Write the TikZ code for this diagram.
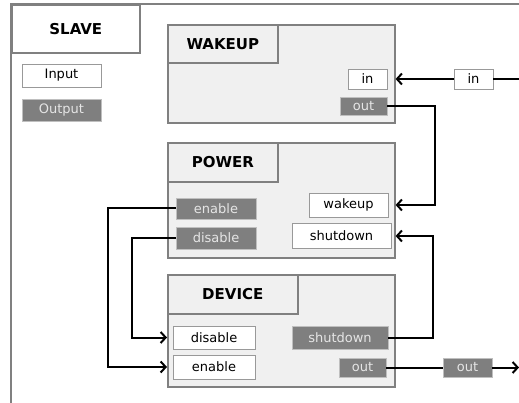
\documentclass[tikz,border=0pt]{standalone}
\usepackage{fontspec}
\setmainfont{DejaVu Sans}
\usetikzlibrary{positioning}
\usetikzlibrary{arrows.meta}
\definecolor{modfill}{HTML}{F0F0F0}
\definecolor{modline}{HTML}{808080}
\definecolor{outfill}{HTML}{7F7F7F}
\tikzset{
    module/.style={
        draw=modline,
        line width=1.6pt,
        fill=modfill,
        anchor=north west,
        inner sep=0pt},
    title/.style={
        module,
        font=\fontsize{15}{18}\selectfont\bfseries},
    inport/.style={
        draw=modline!80,
        fill=white,
        line width=0.8pt,
        inner sep=0pt,
        font=\fontsize{13}{15}\selectfont},
    outport/.style={
        inport,
        draw=modline!50,
        fill=outfill,
        text=white!90!black},
    link/.style={
        draw,
        -{Straight Barb[length=5pt,width=11pt]},
        line width=2pt}}

\begin{document}
\begin{tikzpicture}[x=1pt,y=-1pt]
        \useasboundingbox (0,0) rectangle (519,403);
        \fill[white] (0,0) rectangle (519,403);
        \draw[modline,line width=1.6pt] (11,403) -- (11,4) -- (519,4);
        \node[title,fill=white,minimum width=128pt,minimum height=48pt] (slave) at (11,4) {SLAVE};
        \node[inport,minimum width=79pt,minimum height=23pt] (input) at (61.5,75.5) {Input};
        \node[outport,minimum width=79pt,minimum height=22pt] (output) at (61.5,110) {Output};

        % modules
        \node[module,minimum width=227pt,minimum height=98pt] (wakeup) at (167,24) {};
        \node[title,minimum width=110pt,minimum height=38pt] (wakeupT) at (167,24) {WAKEUP};
        \node[module,minimum width=227pt,minimum height=115pt] (power) at (167,142) {};
        \node[title,minimum width=110pt,minimum height=39pt] (powerT) at (167,142) {POWER};
        \node[module,minimum width=227pt,minimum height=112pt] (device) at (167,274) {};
        \node[title,minimum width=130pt,minimum height=39pt] (deviceT) at (167,274) {DEVICE};

        % ports
        \node[inport,minimum width=39pt,minimum height=20pt] (wkin) at (367.5,79) {in};
        \node[outport,minimum width=47pt,minimum height=18pt] (wkout) at (363.5,106) {out};
        \node[outport,minimum width=80pt,minimum height=21pt] (pwen) at (216,208.5) {enable};
        \node[outport,minimum width=80pt,minimum height=22pt] (pwdis) at (216,238) {disable};
        \node[inport,minimum width=79pt,minimum height=24pt] (pwwake) at (348.5,205) {wakeup};
        \node[inport,minimum width=99pt,minimum height=25pt] (pwshut) at (341.5,236) {shutdown};
        \node[inport,minimum width=82pt,minimum height=23pt] (dvdis) at (214,337.5) {disable};
        \node[inport,minimum width=82pt,minimum height=24pt] (dven) at (214,367) {enable};
        \node[outport,minimum width=96pt,minimum height=23pt] (dvshut) at (340,337.5) {shutdown};
        \node[outport,minimum width=47pt,minimum height=19pt] (dvout) at (362.5,367.5) {out};

        \node[inport,minimum width=39pt,minimum height=20pt] (extin) at (473.5,79) {in};
        \node[outport,minimum width=49pt,minimum height=19pt] (extout) at (467.5,367.5) {out};
        \coordinate (inbeg) at (519,79);
        \coordinate (outend) at (519,367.5);

        \coordinate (busA) at (435,0);
        \coordinate (busB) at (433,0);
        \coordinate (busC) at (108,0);
        \coordinate (busD) at (132,0);

        \draw[link,-] (inbeg) -- (extin);
        \draw[link] (extin) -- (wkin -| wakeup.east);
        \draw[link] (wkout.east) -| (busA |- pwwake) -- (pwwake -| power.east);
        \draw[link] (dvshut.east) -| (busB |- pwshut) -- (pwshut -| power.east);
        \draw[link] (pwen.west) -| (busC |- dven) -- (dven -| device.west);
        \draw[link] (pwdis.west) -| (busD |- dvdis) -- (dvdis -| device.west);
        \draw[link,-] (dvout.east) -- (extout);
        \draw[link] (extout) -- (outend);
    \end{tikzpicture}
\end{document}
